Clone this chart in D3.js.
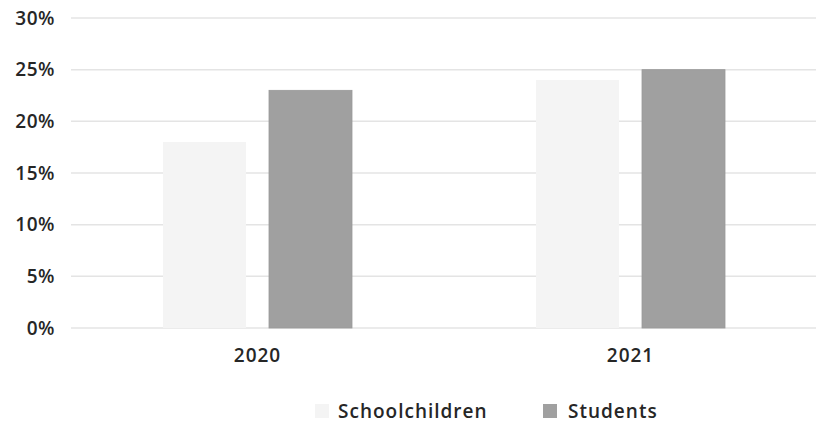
<!DOCTYPE html>
<html>
<head>
<meta charset="utf-8">
<script src="https://cdn.jsdelivr.net/npm/d3@7"></script>
<style>
  body { margin: 0; background: #fff; }
  text { font-family: "Open Sans", sans-serif; font-weight: 600; fill: #262626; }
</style>
</head>
<body>
<svg id="chart" width="816" height="423"></svg>
<script>
var years = ["2020", "2021"];
var series = ["Schoolchildren", "Students"];
var schoolchildren = [18, 24];
var students = [23, 25];
var yTicks = [0, 5, 10, 15, 20, 25, 30];
var colors = ["#f4f4f4", "#a0a0a0"];

var svg = d3.select("#chart");
var margin = { top: 18, right: -1, bottom: 95, left: 71 };
var width = 816 - margin.left - margin.right;
var height = 423 - margin.top - margin.bottom;

var g = svg.append("g").attr("transform", `translate(${margin.left},${margin.top})`);

var x0 = d3.scaleBand().domain(years).range([0, width]);
var groupWidth = 189;
var x1 = d3.scaleBand().domain(series).range([0, groupWidth]).paddingInner(0.217);
var y = d3.scaleLinear().domain([0, 30]).range([height, 0]);

// gridlines
g.selectAll("line.grid")
  .data(yTicks)
  .enter()
  .append("line")
  .attr("class", "grid")
  .attr("x1", 0)
  .attr("x2", width)
  .attr("y1", d => y(d))
  .attr("y2", d => y(d))
  .style("stroke", "#e4e4e4")
  .style("stroke-width", 1.5);

// y axis labels
var yAxis = g.append("g")
  .call(d3.axisLeft(y).tickValues(yTicks).tickFormat(d => d + "%").tickSize(0).tickPadding(16));
yAxis.select(".domain").remove();
yAxis.selectAll("text")
  .style("font-size", "19px")
  .style("letter-spacing", "0.5px")
  .style("font-family", "'Open Sans', sans-serif")
  .attr("fill", "#262626");

// x axis labels
var xAxis = g.append("g")
  .attr("transform", `translate(0,${height})`)
  .call(d3.axisBottom(x0).tickSize(0).tickPadding(21));
xAxis.select(".domain").remove();
xAxis.selectAll("text")
  .style("font-size", "19px")
  .style("letter-spacing", "1px")
  .style("font-family", "'Open Sans', sans-serif")
  .attr("fill", "#262626");

// bars
var data = years.map((yr, i) => ({ year: yr, values: [schoolchildren[i], students[i]] }));
var offset = (x0.bandwidth() - groupWidth) / 2;

var groups = g.selectAll("g.year")
  .data(data)
  .enter()
  .append("g")
  .attr("class", "year")
  .attr("transform", d => `translate(${x0(d.year) + offset},0)`);

groups.selectAll("rect")
  .data(d => d.values.map((v, j) => ({ key: series[j], value: v, idx: j })))
  .enter()
  .append("rect")
  .attr("x", d => x1(d.key))
  .attr("y", d => y(d.value))
  .attr("width", x1.bandwidth())
  .attr("height", d => height - y(d.value))
  .style("fill", d => colors[d.idx])
  .style("stroke", d => d.idx == 1 ? "#999" : "none")
  .style("stroke-width", 0.8);

// legend
var legendX = [315, 543];
var legend = svg.selectAll("g.legend")
  .data(series)
  .enter()
  .append("g")
  .attr("class", "legend")
  .attr("transform", (d, i) => `translate(${legendX[i]},404)`);

legend.append("rect")
  .attr("width", 14)
  .attr("height", 14)
  .style("fill", (d, i) => colors[i]);

legend.append("text")
  .text(d => d)
  .attr("x", (d, i) => i == 0 ? 23 : 25)
  .attr("y", 14)
  .style("font-size", "19px")
  .style("letter-spacing", "1px");
</script>
</body>
</html>
